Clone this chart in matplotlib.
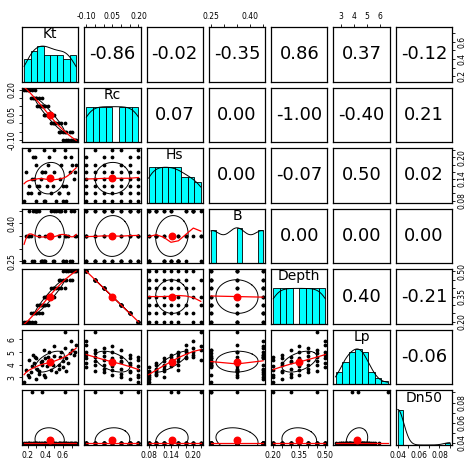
import numpy as np
import matplotlib
matplotlib.use("Agg")
import matplotlib.pyplot as plt

names = ["Kt", "Rc", "Hs", "B", "Depth", "Lp", "Dn50"]

Kt = [0.16,0.20,0.22,0.25,0.18,0.28,0.21,
      0.24,0.30,0.27,0.33,0.26,0.36,0.29,
      0.31,0.35,0.40,0.33,0.38,0.43,0.36,
      0.38,0.42,0.47,0.40,0.45,0.50,0.44,
      0.46,0.52,0.49,0.55,0.58,0.50,0.62,
      0.55,0.60,0.64,0.57,0.68,0.62,0.70,
      0.60,0.66,0.72,0.63,0.75,0.69,0.74]
Rc = [0.20]*7 + [0.15]*7 + [0.10]*7 + [0.05]*7 + [0.00]*7 + [-0.05]*7 + [-0.10]*7
Hs = [0.08,0.10,0.12,0.14,0.16,0.20,0.22,
      0.10,0.08,0.14,0.12,0.20,0.16,0.18,
      0.12,0.14,0.08,0.10,0.22,0.18,0.16,
      0.08,0.12,0.10,0.16,0.14,0.22,0.20,
      0.14,0.08,0.12,0.10,0.18,0.16,0.20,
      0.10,0.12,0.08,0.14,0.16,0.22,0.18,
      0.08,0.10,0.14,0.12,0.18,0.20,0.16]
B = [0.25,0.35,0.45,0.25,0.35,0.45,0.35,
     0.35,0.45,0.25,0.35,0.45,0.25,0.45,
     0.45,0.25,0.35,0.45,0.25,0.35,0.25,
     0.25,0.35,0.45,0.25,0.35,0.45,0.35,
     0.35,0.45,0.25,0.35,0.45,0.25,0.45,
     0.45,0.25,0.35,0.45,0.25,0.35,0.25,
     0.25,0.35,0.45,0.25,0.35,0.45,0.35]
Depth = [0.20]*7 + [0.25]*7 + [0.30]*7 + [0.35]*7 + [0.40]*7 + [0.45]*7 + [0.50]*7
Lp = [2.6,3.2,3.0,3.9,3.6,4.6,4.4,
      3.4,2.9,4.1,3.5,4.8,4.0,4.5,
      3.7,4.2,3.0,3.3,5.2,4.6,4.3,
      3.2,3.9,3.6,4.5,4.2,5.5,5.0,
      4.4,3.4,4.0,3.7,5.0,4.7,5.3,
      4.0,4.3,3.5,4.6,4.9,6.6,5.2,
      3.8,4.1,4.8,4.5,5.6,5.9,5.0]
Dn50 = [0.04]*49
for k in (3, 20, 40):
    Dn50[k] = 0.09

# correlations as printed (upper triangle)
cor_text = {
    (0,1):"-0.86",(0,2):"-0.02",(0,3):"-0.35",(0,4):"0.86",(0,5):"0.37",(0,6):"-0.12",
    (1,2):"0.07",(1,3):"0.00",(1,4):"-1.00",(1,5):"-0.40",(1,6):"0.21",
    (2,3):"0.00",(2,4):"-0.07",(2,5):"0.50",(2,6):"0.02",
    (3,4):"0.00",(3,5):"0.00",(3,6):"0.00",
    (4,5):"0.40",(4,6):"-0.21",
    (5,6):"-0.06",
}

ticks = {
    "Kt": ([0.2,0.3,0.4,0.5,0.6,0.7], ["0.2","","0.4","","0.6",""]),
    "Rc": ([-0.10,-0.05,0.0,0.05,0.10,0.15,0.20], ["-0.10","","","0.05","","","0.20"]),
    "Hs": ([0.08,0.10,0.12,0.14,0.16,0.18,0.20,0.22], ["0.08","","","0.14","","","0.20",""]),
    "B": ([0.25,0.30,0.35,0.40,0.45], ["0.25","","","0.40",""]),
    "Depth": ([0.20,0.25,0.30,0.35,0.40,0.45,0.50], ["0.20","","","0.35","","","0.50"]),
    "Lp": ([3,4,5,6], ["3","4","5","6"]),
    "Dn50": ([0.04,0.05,0.06,0.07,0.08,0.09], ["0.04","","0.06","","0.08",""]),
}

data = [np.array(v, float) for v in (Kt, Rc, Hs, B, Depth, Lp, Dn50)]
n = len(names)
lims = []
for d in data:
    lo, hi = d.min(), d.max()
    pad = (hi - lo) * 0.04
    lims.append((lo - pad, hi + pad))

def smooth(x, y):
    xs = np.unique(x)
    if len(xs) < 2:
        return None, None
    span = (x.max() - x.min()) * 0.4
    rob = np.ones_like(y)
    for it in range(4):
        fit_pts = []
        for xv in x:
            w = np.clip(1 - (np.abs(x - xv) / span) ** 3, 0, None) ** 3 * rob
            X = np.column_stack([np.ones_like(x), x - xv])
            try:
                beta = np.linalg.solve(X.T @ (w[:, None] * X), X.T @ (w * y))
                fit_pts.append(beta[0])
            except np.linalg.LinAlgError:
                fit_pts.append(np.sum(w * y) / max(w.sum(), 1e-12))
        res = y - np.array(fit_pts)
        s = np.median(np.abs(res))
        if s == 0:
            rob = (np.abs(res) < 1e-9).astype(float)
        else:
            rob = np.clip(1 - (res / (6 * s)) ** 2, 0, None) ** 2
    out = []
    for xv in xs:
        w = np.clip(1 - (np.abs(x - xv) / span) ** 3, 0, None) ** 3 * rob
        X = np.column_stack([np.ones_like(x), x - xv])
        try:
            beta = np.linalg.solve(X.T @ (w[:, None] * X), X.T @ (w * y))
            out.append(beta[0])
        except np.linalg.LinAlgError:
            out.append(np.sum(w * y) / max(w.sum(), 1e-12))
    return xs, np.array(out)

fig = plt.figure(figsize=(4.74, 4.74), dpi=100)
left, right, bottom, top = 22/474, 452/474, 29/474, 447/474
gap = 6/474
pw = (right - left - gap * (n - 1)) / n
ph = (top - bottom - gap * (n - 1)) / n

for i in range(n):
    for j in range(n):
        ax = fig.add_axes([left + j * (pw + gap), top - (i + 1) * ph - i * gap, pw, ph])
        for s in ax.spines.values():
            s.set_linewidth(0.9)
        ax.set_xlim(lims[j]); ax.set_ylim(lims[i])
        ax.set_xticks([]); ax.set_yticks([])
        x, y = data[j], data[i]
        if i == j:
            lo, hi = lims[i]
            d = data[i]
            nb = 8 if len(np.unique(d)) > 3 else 10
            counts, edges = np.histogram(d, bins=nb, range=(d.min(), d.max()))
            scale = (hi - lo) * 0.65 / counts.max()
            ax.bar(edges[:-1], counts * scale, width=np.diff(edges), bottom=lo,
                   align="edge", color="cyan", edgecolor="black", linewidth=0.6)
            sd = d.std()
            if sd > 0:
                bw = 1.06 * sd * len(d) ** (-0.2)
                gx = np.linspace(d.min(), d.max(), 200)
                dens = np.exp(-0.5 * ((gx[:, None] - d[None, :]) / bw) ** 2).sum(1)
                dens = dens / dens.max() * counts.max() * scale
                ax.plot(gx, lo + dens, color="black", lw=0.7)
            ax.text(0.5, 0.87, names[i], transform=ax.transAxes, ha="center",
                    va="center", fontsize=10)
        elif i < j:
            ax.text(0.5, 0.5, cor_text[(i, j)], transform=ax.transAxes,
                    ha="center", va="center", fontsize=13)
        else:
            ax.scatter(x, y, s=3, color="black", zorder=2)
            mx, my, sx, sy = x.mean(), y.mean(), x.std(), y.std()
            r = np.corrcoef(x, y)[0, 1] if sx > 0 and sy > 0 else 0.0
            t = np.linspace(0, 2 * np.pi, 200)
            dd = np.arccos(np.clip(r, -1, 1))
            ax.plot(mx + sx * np.cos(t + dd / 2), my + sy * np.cos(t - dd / 2),
                    color="black", lw=0.7, zorder=3)
            xs, ys = smooth(x, y)
            if xs is not None:
                ax.plot(xs, ys, color="red", lw=0.9, zorder=4)
            ax.scatter([mx], [my], s=22, color="red", zorder=5)
        tk, tl = ticks[names[j]]
        kw = dict(labelsize=5.5, length=2.5, width=0.6, pad=1.5)
        if i == 0 and j % 2 == 1:
            ax.xaxis.tick_top(); ax.set_xticks(tk); ax.set_xticklabels(tl); ax.tick_params(axis="x", **kw)
        if i == n - 1 and j % 2 == 0:
            ax.set_xticks(tk); ax.set_xticklabels(tl); ax.tick_params(axis="x", **kw)
        tk, tl = ticks[names[i]]
        if j == 0 and i % 2 == 1:
            ax.set_yticks(tk); ax.set_yticklabels(tl, rotation=90, va="center")
            ax.tick_params(axis="y", **kw)
        if j == n - 1 and i % 2 == 0:
            ax.yaxis.tick_right(); ax.set_yticks(tk); ax.set_yticklabels(tl, rotation=90, va="center")
            ax.tick_params(axis="y", **kw)

fig.savefig("out.png", dpi=100)
